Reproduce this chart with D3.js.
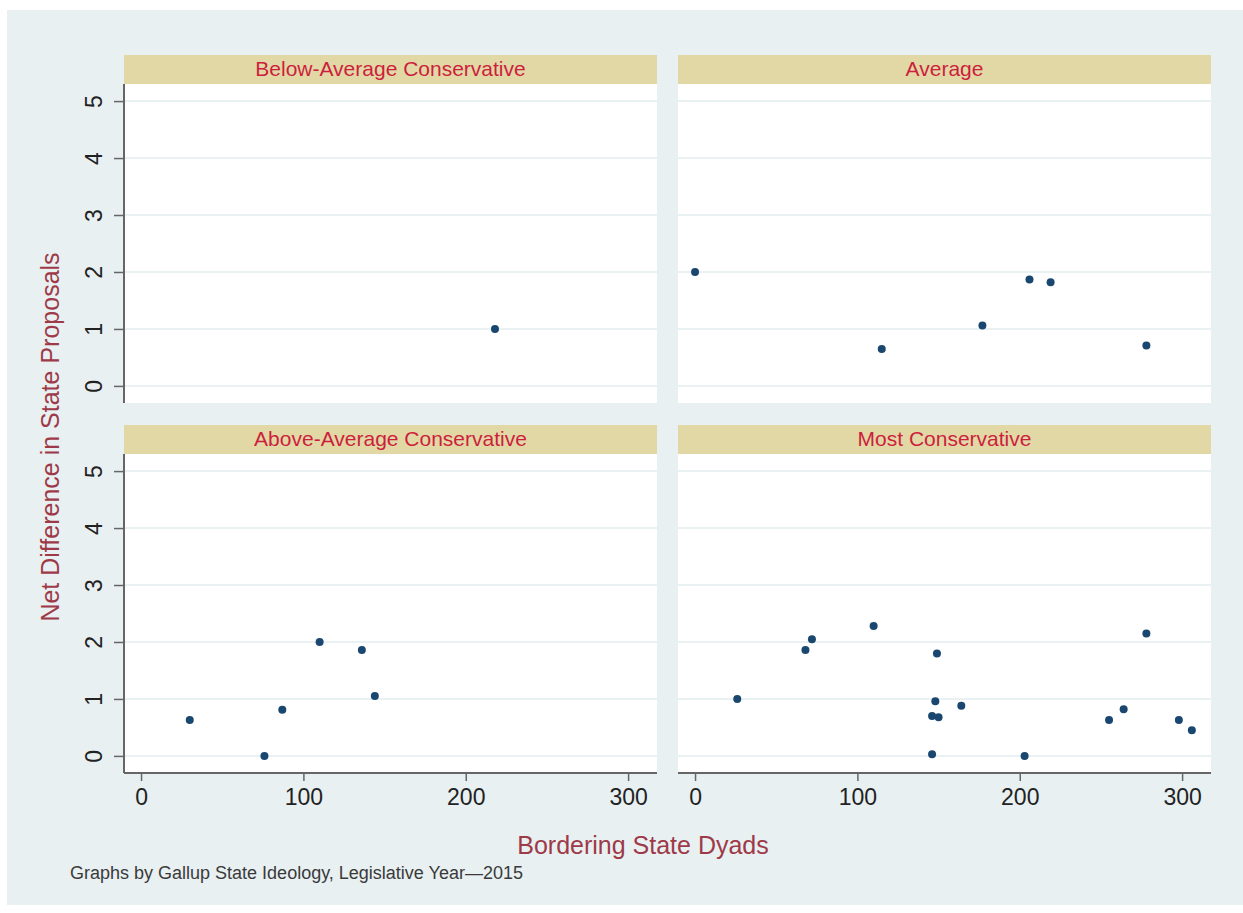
<!DOCTYPE html>
<html>
<head>
<meta charset="utf-8">
<script src="https://cdn.jsdelivr.net/npm/d3@7"></script>
<style>
  body { margin: 0; background: #fff; }
  svg { display: block; font-family: "Liberation Sans", Arial, sans-serif; }
</style>
</head>
<body>
<div id="chart"></div>
<script>
// Panel Titles (By Gallup Ideology Group)
const panels = ["Below-Average Conservative", "Average", "Above-Average Conservative", "Most Conservative"];

// Bordering State Dyads (x) And Net Difference (y) Per Panel
const belowX = [218];
const belowY = [1.0];
const averageX = [0, 115, 177, 206, 219, 278];
const averageY = [2.0, 0.65, 1.06, 1.87, 1.82, 0.71];
const aboveX = [30, 76, 87, 110, 136, 144];
const aboveY = [0.63, 0, 0.81, 2.0, 1.86, 1.05];
const mostX = [26, 68, 72, 110, 149, 148, 146, 150, 164, 146, 203, 255, 264, 278, 298, 306];
const mostY = [1.0, 1.86, 2.05, 2.28, 1.8, 0.96, 0.7, 0.68, 0.88, 0.03, 0, 0.63, 0.82, 2.15, 0.63, 0.45];

// Tick Values
const xTicks = [0, 100, 200, 300];
const yTicks = [0, 1, 2, 3, 4, 5];

const w = 1243, h = 913;
const svg = d3.select("#chart").append("svg").attr("width", w).attr("height", h);

// Outer Background
svg.append("rect").attr("x", 7).attr("y", 10).attr("width", w - 7).attr("height", 895).attr("fill", "#e8f0f2");

// Panel Layout
const cols = [124, 678], colW = 533;
const rows = [55, 425], headH = 29, plotH = 319;

const x = d3.scaleLinear().domain([-10.5, 317.8]).range([0, colW]);
const y = d3.scaleLinear().domain([-0.3, 5.3]).range([plotH, 0]);

const series = [[belowX, belowY], [averageX, averageY], [aboveX, aboveY], [mostX, mostY]];

panels.forEach((title, i) => {
  const c = i % 2, r = Math.floor(i / 2);
  const g = svg.append("g").attr("transform", "translate(" + cols[c] + "," + rows[r] + ")");

  // Header Strip
  g.append("rect").attr("width", colW).attr("height", headH).attr("fill", "#e2d8a5");
  g.append("text").attr("x", colW / 2).attr("y", 21).attr("text-anchor", "middle")
    .attr("font-size", 21).attr("fill", "#cc1f3d").text(title);

  const p = g.append("g").attr("transform", "translate(0," + headH + ")");
  p.append("rect").attr("width", colW).attr("height", plotH).attr("fill", "#fff");

  // Gridlines
  p.selectAll("line.grid").data(yTicks).enter().append("line")
    .attr("x1", 0).attr("x2", colW)
    .attr("y1", (d) => y(d)).attr("y2", (d) => y(d))
    .attr("stroke", "#eaf1f3").attr("stroke-width", 2);

  // Points
  const [xs, ys] = series[i];
  p.selectAll("circle").data(xs).enter().append("circle")
    .attr("cx", (d) => x(d)).attr("cy", (d, j) => y(ys[j]))
    .attr("r", 4).attr("fill", "#1a476f");

  // Y Axis On Left Column
  if (c == 0) {
    const ay = p.append("g").call(d3.axisLeft(y).tickValues(yTicks).tickFormat(d3.format("d")).tickSize(10));
    ay.select(".domain").attr("stroke", "#666").attr("stroke-width", 2).attr("d", "M0,0V" + plotH);
    ay.selectAll(".tick line").attr("stroke", "#666").attr("stroke-width", 1.5);
    ay.selectAll(".tick text").attr("font-size", 23).attr("fill", "#222")
      .attr("transform", "rotate(-90)").attr("text-anchor", "middle")
      .attr("x", 0).attr("y", -22).attr("dy", null);
  }

  // X Axis On Bottom Row
  if (r == 1) {
    const ax = p.append("g").attr("transform", "translate(0," + plotH + ")")
      .call(d3.axisBottom(x).tickValues(xTicks).tickSize(8).tickPadding(8));
    ax.select(".domain").attr("stroke", "#666").attr("stroke-width", 2).attr("d", "M0,0H" + colW);
    ax.selectAll(".tick line").attr("stroke", "#666").attr("stroke-width", 1.5);
    ax.selectAll(".tick text").attr("font-size", 23).attr("fill", "#222");
  }
});

// Axis Titles
svg.append("text").attr("transform", "translate(59,437) rotate(-90)").attr("text-anchor", "middle")
  .attr("font-size", 25).attr("fill", "#9e3a48").text("Net Difference in State Proposals");
svg.append("text").attr("x", 643).attr("y", 854).attr("text-anchor", "middle")
  .attr("font-size", 25).attr("fill", "#9e3a48").text("Bordering State Dyads");

// Footnote
svg.append("text").attr("x", 70).attr("y", 879).attr("font-size", 18).attr("fill", "#3a3a3a")
  .text("Graphs by Gallup State Ideology, Legislative Year\u20142015");
</script>
</body>
</html>
